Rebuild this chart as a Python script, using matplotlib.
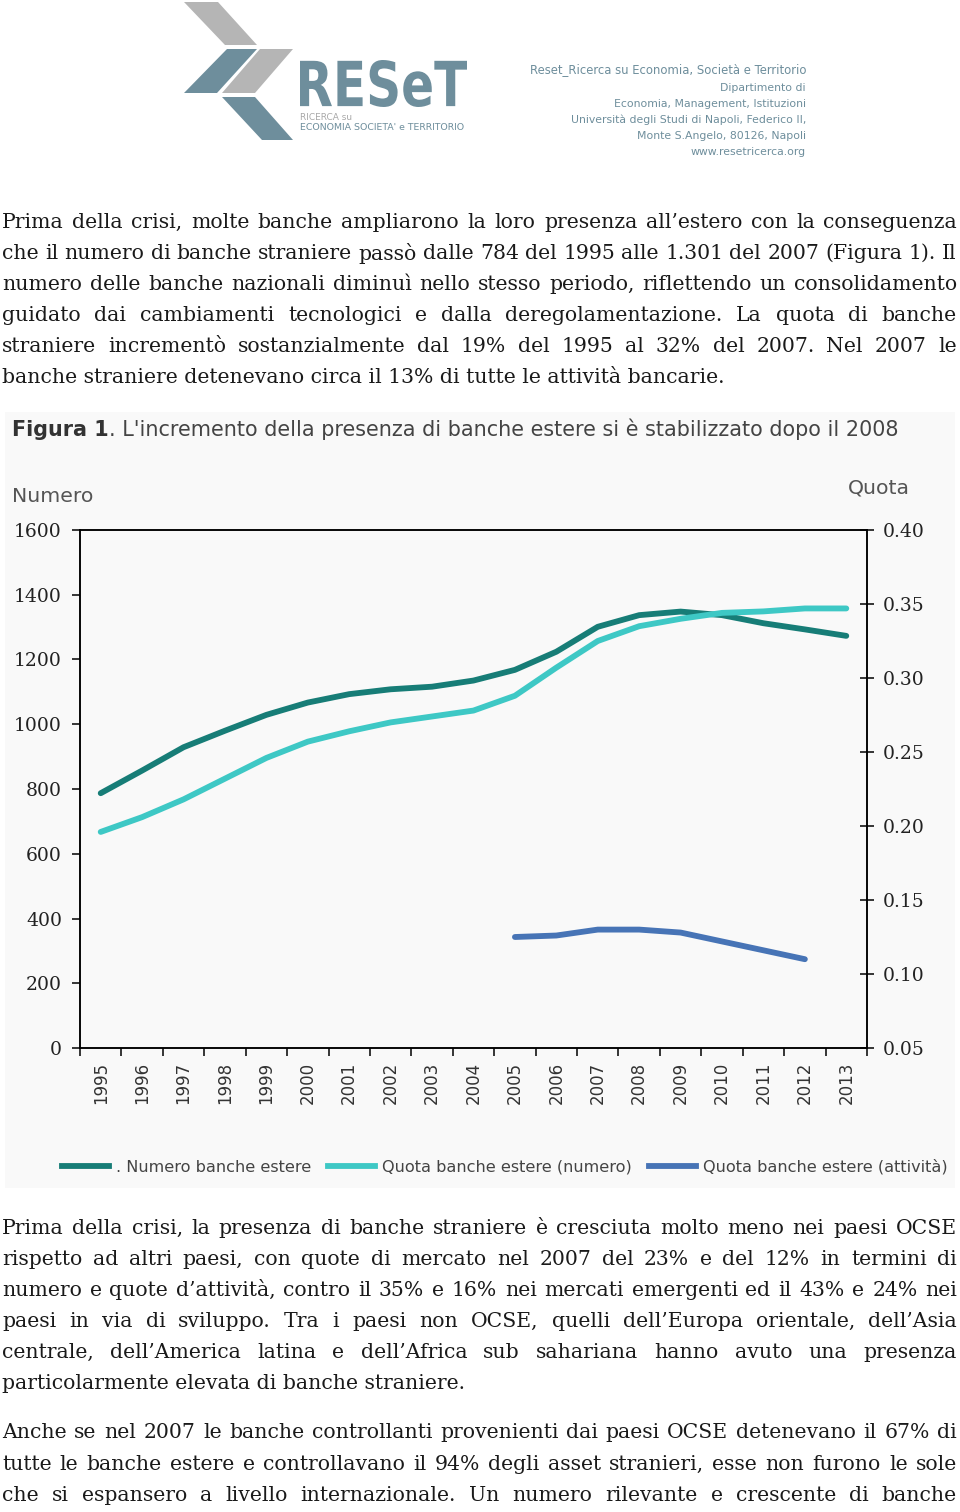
import matplotlib
matplotlib.use("Agg")
import matplotlib.pyplot as plt
from matplotlib import font_manager
from matplotlib.lines import Line2D
from matplotlib.patches import Polygon, Rectangle, PathPatch
from matplotlib.textpath import TextPath
from matplotlib.font_manager import FontProperties
from matplotlib.transforms import Affine2D

# -----------------------
# DATA
# -----------------------
years = list(range(1995, 2014))
numero_banche_estere = [787, 857, 929, 980, 1029, 1067, 1093, 1108, 1116, 1135,
                        1168, 1224, 1301, 1337, 1348, 1337, 1312, 1293, 1273]
quota_numero = [0.196, 0.206, 0.218, 0.232, 0.246, 0.257, 0.264, 0.270, 0.274, 0.278,
                0.288, 0.307, 0.325, 0.335, 0.340, 0.344, 0.345, 0.347, 0.347]
years_attivita = list(range(2005, 2013))
quota_attivita = [0.125, 0.126, 0.130, 0.130, 0.128, 0.122, 0.116, 0.110]

left_ticks = list(range(0, 1601, 200))
right_ticks = [0.05, 0.10, 0.15, 0.20, 0.25, 0.30, 0.35, 0.40]

series_labels = [". Numero banche estere", "Quota banche estere (numero)",
                 "Quota banche estere (attività)"]

chart_title_bold = "Figura 1"
chart_title_rest = ". L'incremento della presenza di banche estere si è stabilizzato dopo il 2008"

para1 = [
    "Prima della crisi, molte banche ampliarono la loro presenza all’estero con la conseguenza",
    "che il numero di banche straniere passò dalle 784 del 1995 alle 1.301 del 2007 (Figura 1). Il",
    "numero delle banche nazionali diminuì nello stesso periodo, riflettendo un consolidamento",
    "guidato dai cambiamenti tecnologici e dalla deregolamentazione. La quota di banche",
    "straniere incrementò sostanzialmente dal 19% del 1995 al 32% del 2007. Nel 2007 le",
    "banche straniere detenevano circa il 13% di tutte le attività bancarie.",
]
para2 = [
    "Prima della crisi, la presenza di banche straniere è cresciuta molto meno nei paesi OCSE",
    "rispetto ad altri paesi, con quote di mercato nel 2007 del 23% e del 12% in termini di",
    "numero e quote d’attività, contro il 35% e 16% nei mercati emergenti ed il 43% e 24% nei",
    "paesi in via di sviluppo. Tra i paesi non OCSE, quelli dell’Europa orientale, dell’Asia",
    "centrale, dell’America latina e dell’Africa sub sahariana hanno avuto una presenza",
    "particolarmente elevata di banche straniere.",
]
para3 = [
    "Anche se nel 2007 le banche controllanti provenienti dai paesi OCSE detenevano il 67% di",
    "tutte le banche estere e controllavano il 94% degli asset stranieri, esse non furono le sole",
    "che si espansero a livello internazionale. Un numero rilevante e crescente di banche",
]

header_lines = [
    "Reset_Ricerca su Economia, Società e Territorio",
    "Dipartimento di",
    "Economia, Management, Istituzioni",
    "Università degli Studi di Napoli, Federico II,",
    "Monte S.Angelo, 80126, Napoli",
    "www.resetricerca.org",
]

# -----------------------
# STYLE
# -----------------------
W, H = 960, 1512
DARK = "#177d77"
LIGHT = "#3ec8c5"
BLUE = "#4774b6"
SLATE = "#6e8e9c"
LOGO_GRAY = "#b5b5b5"
PANEL = "#f9f9f9"
SERIF = "DejaVu Serif"
SANS = "DejaVu Sans"

installed = {f.name for f in font_manager.fontManager.ttflist}
NARROW = "Liberation Sans Narrow" if "Liberation Sans Narrow" in installed else SANS

fig = plt.figure(figsize=(W / 100, H / 100), dpi=100)
fig.patch.set_facecolor("white")
renderer = fig.canvas.get_renderer()

# page axes in pixel coordinates (y down)
page = fig.add_axes([0, 0, 1, 1], zorder=0)
page.set_xlim(0, W)
page.set_ylim(H, 0)
page.axis("off")


def text_width(s, **kw):
    t = page.text(0, 0, s, **kw)
    w = t.get_window_extent(renderer).width
    t.remove()
    return w


def fit_size(s, width, base=10, **kw):
    return base * width / text_width(s, fontsize=base, **kw)


# -----------------------
# LOGO
# -----------------------
logo_shapes = [
    ([(184, 2), (218, 2), (257, 45), (225, 45)], LOGO_GRAY),
    ([(227, 49), (257, 49), (217, 93), (184, 93)], SLATE),
    ([(260, 49), (293, 49), (255, 93), (222, 93)], LOGO_GRAY),
    ([(222, 97), (255, 97), (293, 140), (262, 140)], SLATE),
]
for pts, col in logo_shapes:
    page.add_patch(Polygon(pts, closed=True, facecolor=col, edgecolor="none"))

tp = TextPath((0, 0), "RESeT", size=1, prop=FontProperties(family=SANS, weight="bold"))
ext = tp.get_extents()
sx = 167 / ext.width
sy = 47 / ext.height
tr = Affine2D().scale(sx, -sy).translate(300 - ext.x0 * sx, 107 + ext.y0 * sy)
page.add_patch(PathPatch(tr.transform_path(tp), facecolor=SLATE, edgecolor="none"))

page.text(300, 117.5, "RICERCA su", color="#a8a8a8", va="center", ha="left",
          fontsize=fit_size("RICERCA su", 52, family=SANS), family=SANS)
page.text(300, 127, "ECONOMIA SOCIETA' e TERRITORIO", color=SLATE, va="center", ha="left",
          fontsize=fit_size("ECONOMIA SOCIETA' e TERRITORIO", 166, family=SANS), family=SANS)

hs1 = fit_size(header_lines[0], 276, family=NARROW)
hs2 = fit_size(header_lines[3], 235, family=NARROW)
header_y = [70, 88, 104, 120, 136, 152]
for i, (line, y) in enumerate(zip(header_lines, header_y)):
    page.text(806, y, line, ha="right", va="center", color=SLATE, family=NARROW,
              fontsize=hs1 if i == 0 else hs2)

# -----------------------
# BODY TEXT (justified)
# -----------------------
LEFT, RIGHT, LINE_H = 2, 957, 31.1
body_size = fit_size(para1[-1], 730, family=SERIF)
justified = para1[:-1] + para2[:-1] + para3
widest = max(text_width(l, fontsize=body_size, family=SERIF) for l in justified)
if widest > RIGHT - LEFT:
    body_size *= (RIGHT - LEFT) / widest


def draw_paragraph(lines, y0, last_left=True):
    for i, line in enumerate(lines):
        y = y0 + i * LINE_H
        kw = dict(fontsize=body_size, family=SERIF, color="#1a1a1a", va="center", ha="left")
        if i == len(lines) - 1 and last_left:
            page.text(LEFT, y, line, **kw)
            continue
        words = line.split(" ")
        texts = [page.text(0, y, w, **kw) for w in words]
        widths = [t.get_window_extent(renderer).width for t in texts]
        gap = (RIGHT - LEFT - sum(widths)) / (len(words) - 1)
        x = LEFT
        for t, w in zip(texts, widths):
            t.set_x(x)
            x += w + gap


draw_paragraph(para1, 222)
draw_paragraph(para2, 1228)
draw_paragraph(para3, 1433, last_left=False)

# -----------------------
# CHART PANEL
# -----------------------
page.add_patch(Rectangle((5, 412), 950, 776, facecolor=PANEL, edgecolor="none"))

tw = (text_width(chart_title_bold, fontsize=10, family=SANS, weight="bold")
      + text_width(chart_title_rest, fontsize=10, family=SANS))
title_size = 10 * 885 / tw
t1 = page.text(12, 430, chart_title_bold, fontsize=title_size, family=SANS, weight="bold",
               color="#333333", va="center", ha="left")
page.annotate(chart_title_rest, xy=(1, 0), xycoords=t1, va="bottom", ha="left",
              fontsize=title_size, family=SANS, color="#444444")
page.text(12, 496, "Numero", fontsize=fit_size("Numero", 81, family=SANS), family=SANS,
          color="#555555", va="center", ha="left")
page.text(910, 488, "Quota", fontsize=fit_size("Quota", 62, family=SANS), family=SANS,
          color="#555555", va="center", ha="right")

ax = fig.add_axes([80 / W, 1 - 1048 / H, (867 - 80) / W, (1048 - 530) / H], zorder=2)
ax.set_facecolor("none")
ax.plot(years, numero_banche_estere, color=DARK, lw=4.2, solid_capstyle="round",
        solid_joinstyle="round", label=series_labels[0])
ax.set_xlim(1994.5, 2013.5)
ax.set_ylim(0, 1600)
ax.set_yticks(left_ticks)
ax.set_yticklabels([str(v) for v in left_ticks], family=SERIF, fontsize=13.5, color="#222222")
ax.set_xticks(years)
ax.set_xticklabels([str(y) for y in years], rotation=90, family=SANS, fontsize=12,
                   color="#333333", va="top")
ax.set_xticks([y + 0.5 for y in [1994] + years], minor=True)
ax.tick_params(axis="x", which="major", length=0, pad=10)
ax.tick_params(axis="x", which="minor", length=6, width=1.1, direction="out")
ax.tick_params(axis="y", which="major", length=6, width=1.1, direction="out", pad=7)
for sp in ax.spines.values():
    sp.set_linewidth(1.1)

ax2 = ax.twinx()
ax2.set_facecolor("none")
ax2.plot(years, quota_numero, color=LIGHT, lw=4.2, solid_capstyle="round",
         solid_joinstyle="round", label=series_labels[1])
ax2.plot(years_attivita, quota_attivita, color=BLUE, lw=4.2, solid_capstyle="round",
         solid_joinstyle="round", label=series_labels[2])
ax2.set_ylim(0.05, 0.40)
ax2.set_yticks(right_ticks)
ax2.set_yticklabels([f"{v:.2f}" for v in right_ticks], family=SERIF, fontsize=13.5,
                    color="#222222")
ax2.tick_params(axis="y", length=10, width=1.1, direction="inout", pad=6)
for sp in ax2.spines.values():
    sp.set_linewidth(1.1)

handles = [Line2D([], [], color=c, lw=4.2) for c in (DARK, LIGHT, BLUE)]
fig.legend(handles, series_labels, loc="center left", ncol=3,
           bbox_to_anchor=(62 / W, 1 - 1167 / H), frameon=False, borderpad=0,
           borderaxespad=0, handlelength=2.9, handletextpad=0.45, columnspacing=1.05,
           prop={"family": SANS, "size": 11.6}, labelcolor="#444444")

fig.savefig("out.png", dpi=100, facecolor="white")
